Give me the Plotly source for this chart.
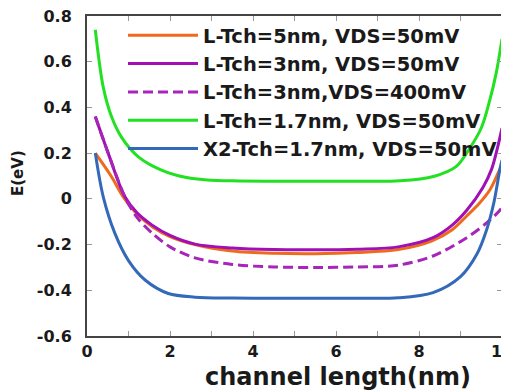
import plotly.graph_objects as go

# ---- data ----
names = [
    "L-Tch=5nm, VDS=50mV",
    "L-Tch=3nm, VDS=50mV",
    "L-Tch=3nm,VDS=400mV",
    "L-Tch=1.7nm, VDS=50mV",
    "X2-Tch=1.7nm, VDS=50mV",
]

x_5nm = [0.2, 0.58, 0.87, 1.2, 1.6, 2.0, 2.6, 3.5, 4.5, 5.5, 6.5, 7.5, 8.3, 8.8, 9.15, 9.45, 9.71, 9.9, 10.0]
y_5nm = [0.20, 0.10, 0.01, -0.065, -0.125, -0.165, -0.20, -0.228, -0.238, -0.24, -0.235, -0.222, -0.185, -0.135, -0.075, -0.02, 0.04, 0.11, 0.15]

x_3nm = [0.2, 0.51, 0.91, 1.2, 1.57, 2.0, 2.6, 3.5, 4.5, 5.5, 6.5, 7.5, 8.34, 8.8, 9.15, 9.54, 9.75, 9.88, 10.0]
y_3nm = [0.36, 0.20, 0.01, -0.06, -0.115, -0.16, -0.198, -0.215, -0.222, -0.223, -0.22, -0.21, -0.17, -0.115, -0.05, 0.05, 0.13, 0.215, 0.31]

x_3nm_hi = [0.2, 0.51, 0.91, 1.2, 1.57, 2.0, 2.6, 3.5, 4.5, 5.5, 6.5, 7.5, 8.34, 9.15, 9.63, 9.95, 10.0]
y_3nm_hi = [0.36, 0.20, 0.01, -0.08, -0.15, -0.21, -0.258, -0.287, -0.298, -0.30, -0.298, -0.29, -0.25, -0.17, -0.105, -0.05, -0.035]

x_17nm = [0.2, 0.39, 0.59, 0.83, 1.23, 1.78, 2.43, 2.9, 3.5, 4.5, 5.5, 6.5, 7.54, 8.35, 8.9, 9.2, 9.5, 9.71, 9.86, 10.0]
y_17nm = [0.74, 0.49, 0.36, 0.27, 0.185, 0.127, 0.092, 0.083, 0.079, 0.077, 0.077, 0.077, 0.079, 0.098, 0.142, 0.215, 0.31, 0.435, 0.55, 0.70]

x_x2 = [0.2, 0.39, 0.67, 1.0, 1.4, 1.96, 2.6, 3.5, 4.5, 5.5, 6.5, 7.5, 8.34, 9.0, 9.4, 9.63, 9.8, 9.95, 10.0]
y_x2 = [0.20, 0.01, -0.15, -0.27, -0.355, -0.414, -0.43, -0.434, -0.435, -0.435, -0.435, -0.433, -0.41, -0.34, -0.24, -0.135, -0.02, 0.13, 0.17]

x_ticks = [0, 2, 4, 6, 8, 10]
y_ticks = [-0.6, -0.4, -0.2, 0, 0.2, 0.4, 0.6, 0.8]
y_tick_text = ["-0.6", "-0.4", "-0.2", "0", "0.2", "0.4", "0.6", "0.8"]

colors = ["#EE6A1C", "#A010B4", "#A526B8", "#22E022", "#3468B8"]
dashes = ["solid", "solid", "10px,5px", "solid", "solid"]

series = [(x_5nm, y_5nm), (x_3nm, y_3nm), (x_3nm_hi, y_3nm_hi), (x_17nm, y_17nm), (x_x2, y_x2)]

fig = go.Figure()
for i in range(5):
    xs, ys = series[i]
    fig.add_trace(go.Scatter(
        x=xs, y=ys, mode="lines", name=names[i],
        line=dict(color=colors[i], width=3, dash=dashes[i], shape="spline", smoothing=0.9),
        legendrank=i + 1,
    ))

# the page body adds an 8px offset; figure is sized to fit 509x392 window
OFF = 8
L, T, PW, PH = 87 - OFF, 16 - OFF, 415, 320
W, H = 509 - OFF, 392 - OFF

font_family = "DejaVu Sans"
fig.update_layout(
    width=W, height=H,
    margin=dict(l=L, r=W - L - PW, t=T, b=H - T - PH),
    paper_bgcolor="white", plot_bgcolor="white",
    showlegend=True,
    legend=dict(
        x=1.0, y=(336 - 16) / PH, xanchor="right", yanchor="top",
        bgcolor="rgba(0,0,0,0)", borderwidth=0,
        font=dict(family=font_family, size=19.5, color="#1a1a1a", weight="bold"),
        itemwidth=70, tracegroupgap=0,
    ),
    xaxis=dict(
        range=[0, 10], tickvals=x_ticks, ticktext=[str(v) for v in x_ticks],
        ticks="inside", ticklen=5, tickcolor="#999", tickwidth=1,
        showline=True, linecolor="#444", linewidth=2, mirror="ticks",
        showgrid=False, zeroline=False, ticklabeloverflow="allow", automargin=False,
        tickfont=dict(family=font_family, size=16, color="#1a1a1a", weight="bold"),
        minor=dict(dtick=1, ticks="inside", ticklen=5, tickcolor="#999", tickwidth=1),
    ),
    yaxis=dict(
        range=[-0.6, 0.8], tickvals=y_ticks, ticktext=y_tick_text,
        ticks="inside", ticklen=5, tickcolor="#999", tickwidth=1,
        showline=True, linecolor="#444", linewidth=2, mirror="ticks",
        showgrid=False, zeroline=False, ticklabeloverflow="allow", automargin=False,
        tickfont=dict(family=font_family, size=16, color="#1a1a1a", weight="bold"),
        ticklabelstandoff=10,
    ),
    annotations=[
        dict(text="channel length(nm)", xref="paper", yref="paper",
             x=(338 - 87) / PW, y=(336 - 377) / PH, xanchor="center", yanchor="middle",
             showarrow=False, font=dict(family=font_family, size=24, color="#1a1a1a", weight="bold")),
        dict(text="E(eV)", xref="paper", yref="paper", textangle=-90,
             x=(18 - 87) / PW, y=(336 - 173) / PH, xanchor="center", yanchor="middle",
             showarrow=False, font=dict(family=font_family, size=15, color="#1a1a1a", weight="bold")),
    ],
)

fig.write_html("out.html")
